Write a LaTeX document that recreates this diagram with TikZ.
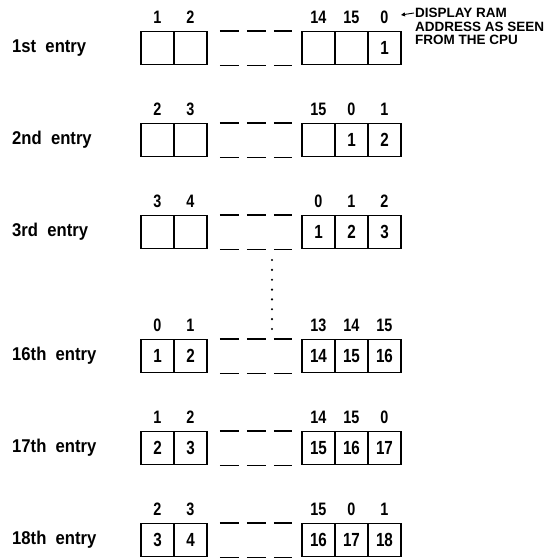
\documentclass[tikz,border=0pt]{standalone}
\usepackage{fontspec}
\setmainfont{Liberation Sans}
\newfontfamily\entryfont{Liberation Sans}[FakeStretch=0.9]
\newfontfamily\digitfont{Liberation Sans}[FakeStretch=0.8]
\usetikzlibrary{arrows.meta}

\tikzset{
  cell/.style={draw, line width=1.5pt, minimum width=33pt, minimum height=33pt,
    inner sep=0pt, font=\digitfont\bfseries\fontsize{19}{19}\selectfont},
  addr/.style={inner sep=0pt, font=\digitfont\bfseries\fontsize{18}{18}\selectfont},
  entry/.style={anchor=west, inner sep=0pt,
    font=\entryfont\bfseries\fontsize{18.5}{18.5}\selectfont},
  gapline/.style={line width=1.5pt,
    dash pattern=on 0pt off 12pt on 19pt off 8pt on 19pt off 8pt on 18pt off 12pt},
  note/.style={anchor=north west, align=left, inner sep=0pt,
    font=\fontsize{13.5}{13.5}\selectfont\bfseries},
}

\begin{document}
\begin{tikzpicture}[x=1pt, y=-1pt]
  \useasboundingbox (0,0) rectangle (551,558);

  % one row per entry: ordinal / centre / addresses / contents
  \foreach \r/\nm/\yy/\aa/\ab/\ac/\ad/\ae/\ca/\cb/\cc/\cd/\ce in {
      1/1st/48/1/2/14/15/0/{}/{}/{}/{}/1,
      2/2nd/140/2/3/15/0/1/{}/{}/{}/1/2,
      3/3rd/232/3/4/0/1/2/{}/{}/1/2/3,
      16/16th/356/0/1/13/14/15/1/2/14/15/16,
      17/17th/448/1/2/14/15/0/2/3/15/16/17,
      18/18th/540/2/3/15/0/1/3/4/16/17/18}
  {
    \node[entry] (e\r) at (12,\yy) {\nm\ \ entry};

    % cells
    \node[cell] (c\r-1) at (157.5,\yy) {\ca};
    \node[cell] (c\r-2) at (190.5,\yy) {\cb};
    \node[cell] (c\r-3) at (318.5,\yy) {\cc};
    \node[cell] (c\r-4) at (351.5,\yy) {\cd};
    \node[cell] (c\r-5) at (384.5,\yy) {\ce};
    \draw[gapline] (c\r-2.north east) -- (c\r-3.north west);
    \draw[gapline] (c\r-2.south east) -- (c\r-3.south west);

    % addresses above the cells
    \node[addr] (a\r-1) at (157.5,\yy-31) {\aa};
    \node[addr] (a\r-2) at (190.5,\yy-31) {\ab};
    \node[addr] (a\r-3) at (318.5,\yy-31) {\ac};
    \node[addr] (a\r-4) at (351.5,\yy-31) {\ad};
    \node[addr] (a\r-5) at (384.5,\yy-31) {\ae};
  }

  % entries 4 to 15 left out
  \coordinate (dtop) at (272,260);
  \coordinate (dbot) at (272,329);
  \draw[line width=2.4pt, line cap=round, dash pattern=on 0pt off 9.85pt] (dtop) -- (dbot);

  % note
  \node[note] (note) at (415,8) {DISPLAY RAM\\ADDRESS AS SEEN\\FROM THE CPU};
  \coordinate (ptr) at (401,15);
  \draw[-{Triangle[length=4pt,width=4pt]}, line width=0.9pt]
    ([xshift=-1pt,yshift=-5pt]note.north west) -- (ptr);
\end{tikzpicture}
\end{document}
